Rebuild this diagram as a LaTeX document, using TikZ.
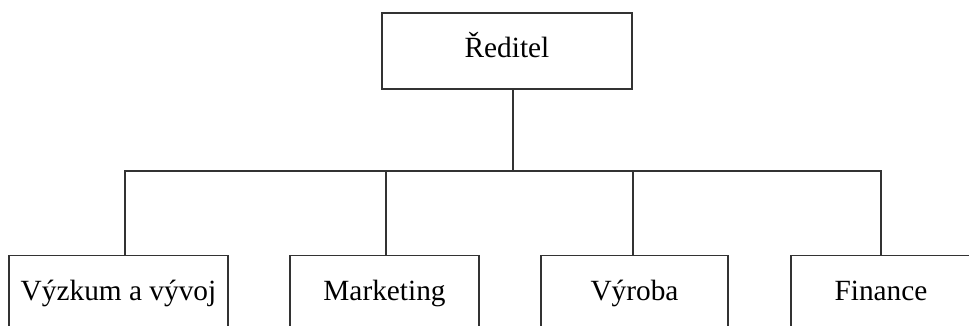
\documentclass[tikz,border=0pt]{standalone}
\usepackage{fontspec}
\setmainfont{Liberation Serif}
\usepackage{tikz}
\usetikzlibrary{calc}
\tikzstyle{head} = [rectangle, minimum width=187.5pt, minimum height=57pt, text height=0.9em, text depth=0em, text centered, draw=black!80, fill=white, line width=0.9pt, font=\fontsize{22}{26}\selectfont]
\tikzstyle{unit} = [rectangle, minimum height=58pt, text height=0.9em, text depth=0em, text centered, draw=black!80, fill=white, line width=0.9pt, font=\fontsize{22}{26}\selectfont]
\tikzstyle{link} = [draw=black!80, line width=0.9pt]

\begin{document}
\begin{tikzpicture}[x=0.75pt, y=-0.75pt]
            \useasboundingbox (0,0) rectangle (969,325);
            \clip (0,0) rectangle (969,325);
            \node (boss) [head] at (507,51) {Ředitel};
            \node (research) [unit, minimum width=164.25pt] at (118.5,294.5) {Výzkum a vývoj};
            \node (marketing) [unit, minimum width=141.75pt] at (384.5,294.5) {Marketing};
            \node (production) [unit, minimum width=140.25pt] at (634.5,294.5) {Výroba};
            \node (finance) [unit, minimum width=135pt] at (881,294.5) {Finance};
            \coordinate (bus) at (513,171);

            \draw [link] ($(boss.south)+(6,0)$) -- (bus);
            \draw [link] (bus) -| ($(research.north)+(6.5,0)$);
            \draw [link] (bus) -| ($(marketing.north)+(1.5,0)$);
            \draw [link] (bus) -| ($(production.north)+(-1.5,0)$);
            \draw [link] (bus) -| (finance.north);
        \end{tikzpicture}
\end{document}
